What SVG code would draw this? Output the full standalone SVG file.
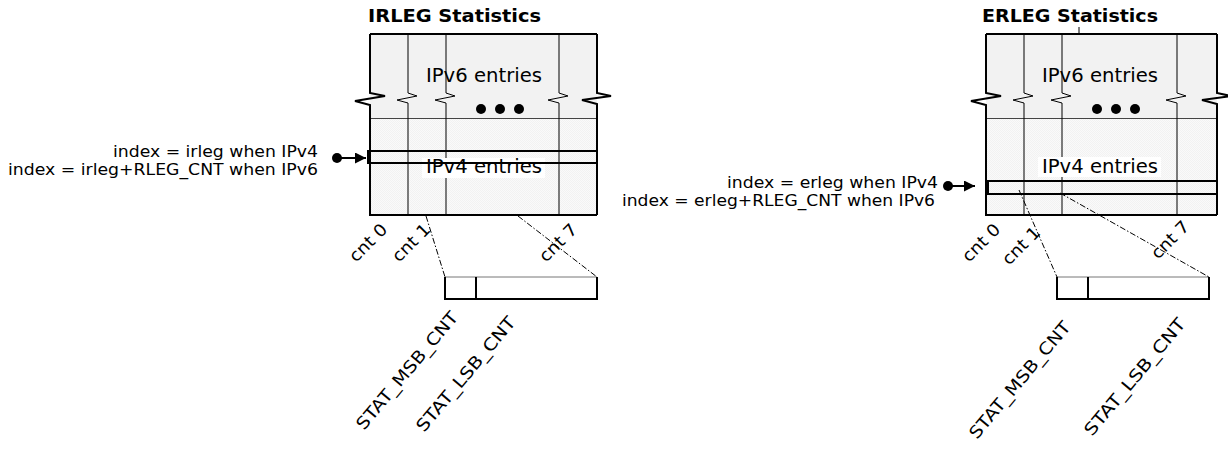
<svg xmlns="http://www.w3.org/2000/svg" width="1228" height="454" viewBox="0 0 1228 454">
<style>
text{font-family:"DejaVu Sans","Liberation Sans",sans-serif;fill:#000}
.title{font-size:17.5px;font-weight:bold}
.area{font-size:19px}
.lbl{font-size:17px}
.idx{font-size:16.5px}
.thick{fill:none;stroke:#000;stroke-width:2}
.thin{fill:none;stroke:#000;stroke-width:1}
.sep{fill:none;stroke:#444;stroke-width:1}
.row{fill:none;stroke:#000;stroke-width:2}
.dd{fill:none;stroke:#000;stroke-width:1;stroke-dasharray:6 2 1.5 2}
.v6{fill:#f2f2f2}
.v4{fill:url(#speck)}
</style>
<defs>
<pattern id="speck" width="2" height="2" patternUnits="userSpaceOnUse">
<rect width="2" height="2" fill="#fafafa"/>
<rect width="1" height="1" fill="#f2f2f2"/>
<rect x="1" y="1" width="1" height="1" fill="#f2f2f2"/>
</pattern>
<marker id="arr" viewBox="0 0 10 10" refX="10" refY="5" markerWidth="11" markerHeight="11" markerUnits="userSpaceOnUse" orient="auto">
<path d="M0,0 L10,5 L0,10 Z" fill="#000"/>
</marker>
</defs>

<g id="irleg">
<text class="title" x="368" y="22" textLength="173" lengthAdjust="spacingAndGlyphs">IRLEG Statistics</text>
<rect class="v6" x="370" y="34" width="227" height="84"/>
<rect class="v4" x="370" y="118" width="227" height="97"/>
<rect x="422" y="66" width="123" height="20" fill="#f2f2f2"/>
<path class="sep" d="M370,118.5 H597"/>
<path class="thin" d="M408,34 V93 L417,96 L397,100 L408,103 V215 M446,34 V93 L455,96 L435,100 L446,103 V215 M559,34 V93 L568,96 L548,100 L559,103 V215"/>
<rect x="422" y="158" width="123" height="20" fill="#fff"/>
<path class="thick" d="M370,34 H597 M370,34 V93 L385,96 L355,101 L370,105 V215 H597 M597,34 V93 L611,96 L582,100 L597,104 V215"/>
<text class="area" x="426" y="82" textLength="116" lengthAdjust="spacingAndGlyphs">IPv6 entries</text>
<text class="area" x="426" y="173" textLength="116" lengthAdjust="spacingAndGlyphs">IPv4 entries</text>
<circle cx="481" cy="109" r="5"/>
<circle cx="500" cy="109" r="5"/>
<circle cx="519" cy="109" r="5"/>
<rect class="row" x="368" y="151" width="229" height="12"/>
<text class="lbl" transform="translate(356,263) rotate(-45)" textLength="46" lengthAdjust="spacingAndGlyphs">cnt 0</text>
<text class="lbl" transform="translate(399,263) rotate(-45)" textLength="46" lengthAdjust="spacingAndGlyphs">cnt 1</text>
<text class="lbl" transform="translate(546,263) rotate(-45)" textLength="46" lengthAdjust="spacingAndGlyphs">cnt 7</text>
</g>

<g id="irleg-index">
<text class="idx" x="318" y="156.5" text-anchor="end" textLength="205" lengthAdjust="spacingAndGlyphs">index = irleg when IPv4</text>
<text class="idx" x="318" y="175" text-anchor="end" textLength="310" lengthAdjust="spacingAndGlyphs">index = irleg+RLEG_CNT when IPv6</text>
</g>

<g id="irleg-counter">
<rect x="445" y="277" width="152" height="22" fill="#fff"/>
<path d="M445,277 H597" stroke="#777" stroke-width="1" fill="none"/>
<path class="thick" d="M445,277 V299 H597 V277 M476,277 V299"/>
<text class="lbl" transform="translate(364,431) rotate(-50)" textLength="148" lengthAdjust="spacingAndGlyphs">STAT_MSB_CNT</text>
<text class="lbl" transform="translate(424,433) rotate(-50)" textLength="144" lengthAdjust="spacingAndGlyphs">STAT_LSB_CNT</text>
</g>

<g id="erleg">
<text class="title" x="982" y="22" textLength="176" lengthAdjust="spacingAndGlyphs">ERLEG Statistics</text>
<path class="thin" d="M1079,27 V34"/>
<rect class="v6" x="986" y="34" width="231" height="84"/>
<rect class="v4" x="986" y="118" width="231" height="97"/>
<rect x="1038" y="66" width="123" height="20" fill="#f2f2f2"/>
<path class="sep" d="M986,118.5 H1217"/>
<path class="thin" d="M1024,34 V93 L1033,96 L1013,100 L1024,103 V215 M1062,34 V93 L1071,96 L1051,100 L1062,103 V215 M1177,34 V93 L1186,96 L1166,100 L1177,103 V215"/>
<rect x="1038" y="157" width="123" height="20" fill="#fff"/>
<path class="thick" d="M986,34 H1217 M986,34 V93 L1001,96 L971,101 L986,105 V215 H1217 M1217,34 V93 L1231,96 L1202,100 L1217,104 V215"/>
<text class="area" x="1042" y="82" textLength="116" lengthAdjust="spacingAndGlyphs">IPv6 entries</text>
<text class="area" x="1042" y="173" textLength="116" lengthAdjust="spacingAndGlyphs">IPv4 entries</text>
<circle cx="1097" cy="109" r="5"/>
<circle cx="1116" cy="109" r="5"/>
<circle cx="1135" cy="109" r="5"/>
<rect class="row" x="988" y="181" width="229" height="13"/>
<text class="lbl" transform="translate(969,263) rotate(-45)" textLength="46" lengthAdjust="spacingAndGlyphs">cnt 0</text>
<text class="lbl" transform="translate(1009,266) rotate(-45)" textLength="46" lengthAdjust="spacingAndGlyphs">cnt 1</text>
<text class="lbl" transform="translate(1158,260) rotate(-45)" textLength="46" lengthAdjust="spacingAndGlyphs">cnt 7</text>
</g>

<g id="erleg-index">
<text class="idx" x="938" y="187.5" text-anchor="end" textLength="211" lengthAdjust="spacingAndGlyphs">index = erleg when IPv4</text>
<text class="idx" x="935" y="206" text-anchor="end" textLength="313" lengthAdjust="spacingAndGlyphs">index = erleg+RLEG_CNT when IPv6</text>
</g>

<g id="erleg-counter">
<rect x="1057" y="277" width="152" height="22" fill="#fff"/>
<path d="M1057,277 H1209" stroke="#777" stroke-width="1" fill="none"/>
<path class="thick" d="M1057,277 V299 H1209 V277 M1088,277 V299"/>
<text class="lbl" transform="translate(977,440) rotate(-50)" textLength="147" lengthAdjust="spacingAndGlyphs">STAT_MSB_CNT</text>
<text class="lbl" transform="translate(1092,437) rotate(-50)" textLength="147" lengthAdjust="spacingAndGlyphs">STAT_LSB_CNT</text>
</g>

<g id="connectors">
<circle cx="337" cy="158" r="5"/>
<path d="M337,158 H366" stroke="#000" stroke-width="2" fill="none" marker-end="url(#arr)"/>
<circle cx="948" cy="186" r="5"/>
<path d="M948,186 H975" stroke="#000" stroke-width="2" fill="none" marker-end="url(#arr)"/>
<path class="dd" d="M426,216 L445,277 M518,216 L597,277"/>
<path class="dd" d="M1019,190 L1057,277 M1060,193 L1209,277"/>
</g>
</svg>
